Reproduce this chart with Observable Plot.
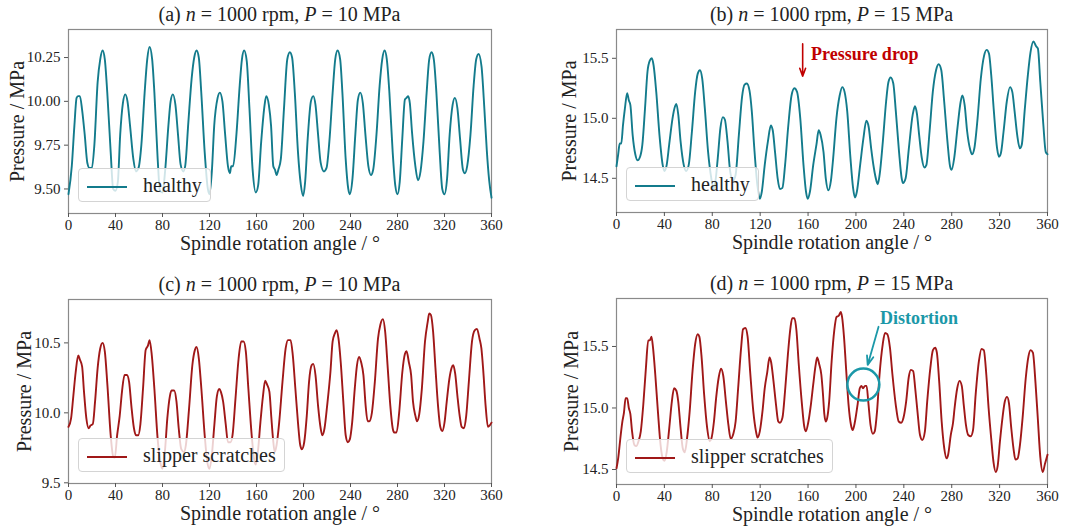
<!DOCTYPE html>
<html>
<head>
<meta charset="utf-8">
<script src="https://cdn.jsdelivr.net/npm/d3@7"></script>
<script src="https://cdn.jsdelivr.net/npm/@observablehq/plot@0.6"></script>
<style>
  html, body { margin: 0; padding: 0; background: #fff; }
  #wrap { position: relative; width: 1080px; height: 529px; background: #fff; overflow: hidden;
          font-family: "Liberation Serif", "Times New Roman", serif; color: #222; }
  .panel { position: absolute; }
  .title { position: absolute; font-size: 20px; line-height: 20px; white-space: nowrap; transform: translateX(-50%); color: #222; }
  .legend { position: absolute; font-size: 20px; line-height: 20px; padding: 6px 8px; white-space: nowrap;
            background: rgba(255,255,255,0.8); border: 1px solid #d4d4d4; border-radius: 4px; color: #222; }
  .legend .swatch { display: inline-block; width: 40px; height: 0; vertical-align: middle; margin-right: 16px; }
</style>
</head>
<body>
<div id="wrap"></div>
<script>
// ---------- data ----------
const xTicks = [0, 40, 80, 120, 160, 200, 240, 280, 320, 360];
const ticksA = [9.5, 9.75, 10.0, 10.25];
const ticksB = [14.5, 15.0, 15.5];
const ticksC = [9.5, 10.0, 10.5];
const ticksD = [14.5, 15.0, 15.5];

const titles = ["(a)", "(b)", "(c)", "(d)"];
const speedRpm = [1000, 1000, 1000, 1000];
const pressureMPa = [10, 15, 10, 15];
const seriesNames = ["healthy", "healthy", "slipper scratches", "slipper scratches"];

const aAngle = [0,2.8,5,6.9,8.3,9.7,11.6,13.8,16,17.9,19.9,22,24.8,27,29,30.9,33,35.9,38,40,42,44,46.3,48.3,50.2,52.4,55.2,57.4,59.6,62,64.8,67,69,71.2,73.1,75.9,77.8,80,82.2,85,86.9,88.8,91,93.2,95.4,97.7,99.3,102,104.8,107,109,110.9,113,115.9,118.6,120,122,124,126.9,128.8,131,133.2,135.7,137.4,138.5,140.1,142.9,145.7,147.6,149.5,151.7,154,156.7,159.4,161.4,164,166.9,168.3,170.5,172.4,174.3,175.7,177.1,178.6,180.7,183.4,186.2,188.4,190.3,192.6,195.3,197.8,199.7,201.4,203.6,206.3,208.3,210.2,212.4,214.6,217.4,219.6,222,224.8,227,229,231.2,233.1,235.9,238.1,239.4,241.7,244.1,246.3,248.3,250.5,252.7,255.2,257.4,259.3,262.1,264.8,267,269,270.9,273.1,275.9,278.1,280,281.9,284.1,286.3,287.7,289.1,290.5,292.4,295.2,297.4,299.6,302.1,304.8,307,309,310.9,313.1,315.9,318.1,320,322.2,324.4,326.9,328.8,331,333.2,335.7,337.4,339.3,342.1,344.8,347,349,351.5,354,356,358,360];
const aPressure = [9.47,9.63,9.86,10.02,10.03,10.03,9.95,9.81,9.65,9.62,9.62,9.75,10.11,10.24,10.29,10.24,10.05,9.71,9.50,9.49,9.54,9.81,9.99,10.04,10.00,9.86,9.67,9.60,9.62,9.75,10.05,10.24,10.31,10.24,10.05,9.67,9.49,9.48,9.60,9.86,10.00,10.04,9.98,9.81,9.64,9.60,9.63,9.88,10.13,10.25,10.29,10.25,10.05,9.71,9.50,9.47,9.60,9.86,10.02,10.05,10.00,9.82,9.63,9.59,9.63,9.63,9.81,10.09,10.24,10.29,10.23,9.96,9.61,9.48,9.52,9.77,9.98,10.03,9.98,9.86,9.63,9.61,9.58,9.61,9.67,9.96,10.24,10.28,10.25,10.05,9.71,9.52,9.46,9.54,9.79,10.00,10.03,9.98,9.81,9.65,9.60,9.62,9.77,10.05,10.24,10.29,10.24,10.05,9.67,9.50,9.47,9.56,9.81,10.01,10.05,9.99,9.81,9.63,9.58,9.61,9.81,10.09,10.24,10.29,10.24,10.05,9.71,9.52,9.47,9.54,9.79,10.01,10.02,10.03,9.99,9.82,9.63,9.55,9.60,9.77,10.05,10.24,10.28,10.24,10.05,9.71,9.50,9.47,9.56,9.81,9.98,10.02,9.96,9.79,9.61,9.59,9.63,9.81,10.09,10.24,10.27,10.20,9.95,9.72,9.55,9.45];

const bAngle = [0,1.4,2.7,4,5.4,7,8.9,10.3,11.6,13.5,15.7,17.6,19.7,21.6,23.8,25.9,27.8,29.5,31,33.2,35.9,38.6,40,41.9,44,46.8,48.9,50,51.6,53.5,56.2,58.1,60.3,63,65.7,67.8,69.7,71.6,73.8,76.5,79.2,81.1,82.7,84.6,86.8,88.9,90.5,92.7,94.9,97.3,99.5,102.2,104.9,107,108.9,111.1,113,115.1,117.6,119.7,121.4,123.8,126.5,128.9,130.5,132.4,134.6,136.5,138.6,140.8,143.5,146.2,148.6,150.8,153.5,156.2,158.4,159.7,161.6,164.3,167,168.9,170.5,172.9,174.8,177,179.1,181,183.7,186.4,188.6,190.5,192.7,195.4,197.6,199.2,200.8,203.5,206.2,208.7,210.6,212.7,214.9,217.1,218.2,219.8,222.5,225.2,227.1,229,231.2,233.3,236,238.2,239.3,241.5,244.2,247.4,249.3,250.9,252.8,255,257.2,258.8,261.5,264.2,266.9,269.1,271.3,273.7,276.4,278.6,279.9,282.1,284.8,287.5,288.9,290.8,292.9,295.4,297,298.9,301.6,304.3,307,309.2,311.1,313,315.2,317.9,319.5,321.1,323.3,326,328.7,330.6,332.5,334.7,336.9,338.5,340.9,343.6,345.8,348.2,350.5,352,354,356.5,358.5,360];
const bPressure = [14.60,14.70,14.79,14.79,14.94,15.08,15.21,15.15,15.11,14.86,14.70,14.65,14.68,14.78,15.08,15.39,15.48,15.50,15.44,15.22,14.86,14.61,14.56,14.61,14.78,15.00,15.10,15.12,15.03,14.81,14.61,14.56,14.61,14.89,15.22,15.37,15.40,15.33,15.08,14.72,14.50,14.41,14.48,14.67,14.92,15.01,14.99,14.81,14.56,14.48,14.53,14.86,15.18,15.28,15.29,15.23,15.06,14.75,14.45,14.33,14.39,14.61,14.81,14.94,14.90,14.72,14.50,14.41,14.42,14.61,14.94,15.19,15.25,15.22,15.00,14.61,14.38,14.33,14.39,14.61,14.78,14.90,14.86,14.72,14.50,14.40,14.48,14.67,15.00,15.19,15.26,15.22,15.06,14.67,14.42,14.34,14.39,14.61,14.83,14.98,14.93,14.75,14.59,14.48,14.45,14.53,14.81,15.14,15.30,15.34,15.29,15.06,14.72,14.50,14.46,14.50,14.75,15.03,15.10,15.04,14.86,14.67,14.59,14.61,14.89,15.22,15.40,15.45,15.40,15.14,14.81,14.60,14.57,14.67,14.92,15.14,15.19,15.11,14.89,14.74,14.70,14.75,15.00,15.33,15.52,15.57,15.54,15.36,15.06,14.75,14.68,14.71,14.89,15.14,15.26,15.22,15.06,14.86,14.75,14.78,15.06,15.36,15.55,15.64,15.60,15.58,15.30,14.95,14.72,14.70];

const cAngle = [0,2.2,4.1,6.1,8.3,9.7,11.6,13.2,15.2,17.1,18.8,20.7,22.6,24.8,27,29,30.9,33.1,35.9,38,39.4,41.4,43.6,45.5,47.7,49.7,51.6,53.5,55.7,57.4,59.3,61.2,63.4,65.7,67.6,69,70.9,73.1,75.9,78.1,80,82.2,84.1,86.3,87.7,89.9,91.9,93.8,96,98.2,99.9,102.6,105.4,107.6,109,110.9,113.1,115.9,118.1,120,121.9,124.1,126.3,128.3,129.7,131.6,133.8,135.7,137.9,139.6,142.1,144.8,147,149,150.9,153.1,155.9,158.1,159.4,161.4,163.3,165.5,167.4,169.1,171,172.6,174,175.5,177.1,179.3,182.1,184.8,186.8,189,190.9,193.1,195.3,197.2,198.6,200.6,202.8,204.7,206.9,208.3,210.2,212.4,214.6,216,217.9,220.1,222.9,224.8,226.8,228.1,229.8,231.7,233.9,235.9,237.8,239.4,241.4,243.6,245.5,247.4,249.1,251,252.9,254.6,256,258.2,260.7,263.4,265.4,267.6,269.5,271.7,273.9,275.9,277.2,279.2,281.4,284.1,286.3,287.7,289.7,291.6,293.2,295.2,296.6,298.5,300.7,303.4,305.7,307,308.4,310.3,312.3,314.5,316.4,318.1,320,321.9,324.1,326,327.4,329.1,331,332.9,334.6,336.6,338.5,340.7,343.4,345.7,347.6,349.8,351.4,353,355,357,358.5,360];
const cPressure = [9.90,9.96,10.12,10.29,10.41,10.38,10.33,10.15,9.96,9.89,9.91,9.92,10.08,10.32,10.46,10.50,10.44,10.20,9.84,9.69,9.68,9.84,9.98,10.15,10.27,10.27,10.22,10.05,9.89,9.84,9.84,9.92,10.17,10.45,10.48,10.52,10.41,10.17,9.81,9.65,9.60,9.74,9.96,10.12,10.16,10.16,10.08,9.89,9.74,9.72,9.77,10.03,10.34,10.45,10.47,10.39,10.17,9.84,9.65,9.60,9.69,9.91,10.12,10.17,10.15,10.08,9.92,9.79,9.79,9.84,10.10,10.39,10.51,10.51,10.44,10.17,9.84,9.66,9.63,9.74,9.93,10.12,10.23,10.20,10.15,9.97,9.82,9.72,9.77,9.93,10.22,10.46,10.52,10.52,10.41,10.17,9.93,9.77,9.74,9.79,9.98,10.22,10.34,10.35,10.27,10.05,9.89,9.84,9.89,10.05,10.29,10.51,10.57,10.59,10.53,10.36,10.08,9.84,9.79,9.81,9.93,10.17,10.34,10.40,10.36,10.27,10.05,9.94,9.94,10.00,10.22,10.53,10.63,10.67,10.58,10.32,10.05,9.89,9.86,9.86,10.00,10.29,10.42,10.44,10.36,10.27,10.08,9.98,9.94,9.99,10.17,10.51,10.65,10.71,10.70,10.58,10.32,10.05,9.90,9.87,9.93,10.08,10.24,10.32,10.34,10.28,10.12,9.98,9.90,9.89,9.98,10.22,10.51,10.59,10.60,10.53,10.46,10.30,10.05,9.90,9.91,9.93];

const dAngle = [0,1.4,3.5,4.9,6.2,7.6,8.9,10.3,11.6,13,14.9,16.5,18.4,20.3,22.4,24.6,26.5,27.8,29.2,30.5,32.4,34.6,36.8,38.6,40,41.9,44.1,46.2,48.1,50,51.6,53.5,55.4,57,58.9,61.1,63.5,65.7,67.8,69.2,71.1,73.2,75.7,77.8,79.2,81.4,83.2,85.4,87.3,89.2,91.4,93.5,95.4,97.6,99.5,101.6,104.1,105.7,107.6,109.5,111.6,114.3,116.5,117.8,119.7,121.9,123.8,125.9,127.8,129.2,131.1,133.2,135.1,136.5,138.6,140.8,143.2,145.4,146.8,148.6,150.3,152.2,154.9,156.8,158.1,160.3,162.4,164.3,166.2,167.6,169.2,171.1,172.4,173.6,174.8,176,177.6,179.7,181.9,183.8,185.7,187.3,188.4,190,191.9,193.8,195.9,197.3,199.2,201.4,203.2,204.6,205.9,207.6,208.9,210.3,212.2,214.1,215.7,217.6,219.7,222.4,224.3,226.2,228.4,230.5,233.2,235.7,237.8,239.7,241.9,244.1,245.9,247.8,249.5,251.4,253.5,255.4,257.6,259.5,262.2,264.3,266.2,267.6,269.5,271.6,273.8,275.7,277,279.2,281.1,282.4,284.6,286.5,288.4,290,291.9,293.8,295.9,297.8,300,302.7,304.9,306.8,308.9,310.8,313,314.9,316.8,318.4,320.3,322.4,324.3,326.2,327.8,329.7,331.6,333.2,335.1,337,339.2,341.9,344.1,345.9,347.8,350,352,354,356,358,360];
const dPressure = [14.51,14.59,14.78,14.89,14.96,15.08,15.08,15.00,14.95,14.81,14.70,14.69,14.73,14.81,15.03,15.33,15.55,15.55,15.58,15.49,15.27,14.97,14.70,14.59,14.57,14.64,14.84,15.05,15.16,15.14,15.05,14.84,14.67,14.64,14.75,14.97,15.30,15.52,15.60,15.58,15.41,15.11,14.84,14.73,14.75,14.89,15.08,15.25,15.32,15.26,15.05,14.86,14.75,14.79,14.89,15.16,15.49,15.64,15.65,15.58,15.30,14.97,14.81,14.76,14.81,14.97,15.16,15.29,15.41,15.37,15.22,15.03,14.89,14.88,14.92,15.14,15.44,15.66,15.73,15.73,15.63,15.36,15.03,14.85,14.81,14.89,15.03,15.19,15.34,15.41,15.36,15.27,15.12,14.95,14.89,14.92,15.05,15.38,15.63,15.74,15.75,15.78,15.74,15.58,15.30,15.03,14.86,14.82,14.89,15.03,15.16,15.18,15.16,15.18,15.18,15.05,14.86,14.79,14.81,14.97,15.27,15.52,15.61,15.60,15.49,15.27,15.03,14.89,14.88,14.92,15.05,15.25,15.31,15.30,15.16,14.97,14.78,14.74,14.81,15.05,15.33,15.47,15.49,15.45,15.22,14.89,14.67,14.59,14.62,14.78,14.88,15.00,15.16,15.22,15.18,15.03,14.86,14.78,14.77,14.82,15.11,15.38,15.48,15.47,15.27,15.00,14.75,14.56,14.48,14.53,14.73,14.92,15.05,15.09,15.04,14.84,14.67,14.58,14.59,14.70,14.92,15.25,15.42,15.47,15.45,15.20,14.90,14.60,14.48,14.55,14.62];

// annotations (data coordinates)
const dropArrow = {x1: 155.5, y1: 15.62, x2: 155.5, y2: 15.35};
const dropLabel = {x: 162.5, y: 15.53, text: "Pressure drop"};
const distortionCircle = {x: 206.2, y: 15.19};
const distortionArrow = {x1: 218.9, y1: 15.66, x2: 209.8, y2: 15.35};
const distortionLabel = {x: 252.7, y: 15.73, text: "Distortion"};

// ---------- styling / layout ----------
const TEAL = "#137b8c";
const RED = "#a01818";
const ANN_RED = "#c00000";
const ANN_TEAL = "#1b98a8";
const FRAME = "#8a8a8a";

const panels = [
  {key: "a", left: 0,   top: 0,   ml: 68, mr: 49, mt: 29, mb: 51, domain: [9.36, 10.41],  ticks: ticksA, fmt: ".2f", angle: aAngle, pres: aPressure, color: TEAL, ylx: -51},
  {key: "b", left: 540, top: 0,   ml: 76, mr: 33, mt: 29, mb: 52, domain: [14.215, 15.74], ticks: ticksB, fmt: ".1f", angle: bAngle, pres: bPressure, color: TEAL, ylx: -47},
  {key: "c", left: 0,   top: 265, ml: 68, mr: 49, mt: 34, mb: 46, domain: [9.495, 10.81],  ticks: ticksC, fmt: ".1f", angle: cAngle, pres: cPressure, color: RED,  ylx: -44},
  {key: "d", left: 540, top: 265, ml: 76, mr: 33, mt: 33, mb: 45, domain: [14.378, 15.89], ticks: ticksD, fmt: ".1f", angle: dAngle, pres: dPressure, color: RED,  ylx: -45}
];

const wrap = document.getElementById("wrap");

panels.forEach((p, i) => {
  const data = p.pres.map((v, k) => ({angle: p.angle[k], pressure: v}));
  const marks = [
    Plot.frame({stroke: FRAME, strokeWidth: 1.2}),
    Plot.axisX({ticks: xTicks, tickSize: 4, tickPadding: 2, fontSize: 15, label: null, stroke: "#555", fill: "#222"}),
    Plot.axisY({ticks: p.ticks, tickSize: 4, tickPadding: 4, fontSize: 15, label: null, stroke: "#555", fill: "#222", tickFormat: d3.format(p.fmt)}),
    Plot.line(data, {x: "angle", y: "pressure", stroke: p.color, strokeWidth: 1.9, curve: "monotone-x"}),
    Plot.text(["Spindle rotation angle / °"], {text: d => d, frameAnchor: "bottom", lineAnchor: "middle", dy: 30, fontSize: 20, fill: "#222"}),
    Plot.text(["Pressure / MPa"], {text: d => d, frameAnchor: "left", textAnchor: "middle", lineAnchor: "middle", dx: p.ylx, rotate: -90, fontSize: 20, fill: "#222"})
  ];
  if (p.key === "b") {
    marks.push(Plot.arrow([dropArrow], {x1: "x1", y1: "y1", x2: "x2", y2: "y2", stroke: ANN_RED, strokeWidth: 1.6, headLength: 8, headAngle: 40}));
    marks.push(Plot.text([dropLabel], {x: "x", y: "y", text: "text", textAnchor: "start", fontSize: 18, fontWeight: "bold", fill: ANN_RED}));
  }
  if (p.key === "d") {
    marks.push(Plot.dot([distortionCircle], {x: "x", y: "y", r: 16, stroke: ANN_TEAL, strokeWidth: 2.5, fill: "none"}));
    marks.push(Plot.arrow([distortionArrow], {x1: "x1", y1: "y1", x2: "x2", y2: "y2", stroke: ANN_TEAL, strokeWidth: 1.8, headLength: 8, headAngle: 40}));
    marks.push(Plot.text([distortionLabel], {x: "x", y: "y", text: "text", fontSize: 18, fontWeight: "bold", fill: ANN_TEAL}));
  }
  const chart = Plot.plot({
    width: 540, height: 264,
    marginLeft: p.ml, marginRight: p.mr, marginTop: p.mt, marginBottom: p.mb,
    style: {fontFamily: "'Liberation Serif', 'Times New Roman', serif", background: "transparent", color: "#222", overflow: "visible"},
    x: {domain: [0, 360]},
    y: {domain: p.domain},
    marks
  });
  const holder = document.createElement("div");
  holder.className = "panel";
  holder.style.left = p.left + "px";
  holder.style.top = p.top + "px";
  holder.appendChild(chart);
  wrap.appendChild(holder);

  // title
  const t = document.createElement("div");
  t.className = "title";
  t.style.left = (p.left + p.ml + (540 - p.ml - p.mr) / 2) + "px";
  t.style.top = (p.top + p.mt - 25) + "px";
  t.innerHTML = `${titles[i]} <i>n</i> = ${speedRpm[i]} rpm, <i>P</i> = ${pressureMPa[i]} MPa`;
  wrap.appendChild(t);

  // legend (lower left, matplotlib style)
  const lg = document.createElement("div");
  lg.className = "legend";
  lg.style.left = (p.left + p.ml + 10) + "px";
  lg.style.top = (p.top + 264 - p.mb - 11 - 34) + "px";
  lg.innerHTML = `<span class="swatch" style="border-top: 2px solid ${p.color}"></span>${seriesNames[i]}`;
  wrap.appendChild(lg);
});
</script>
</body>
</html>
